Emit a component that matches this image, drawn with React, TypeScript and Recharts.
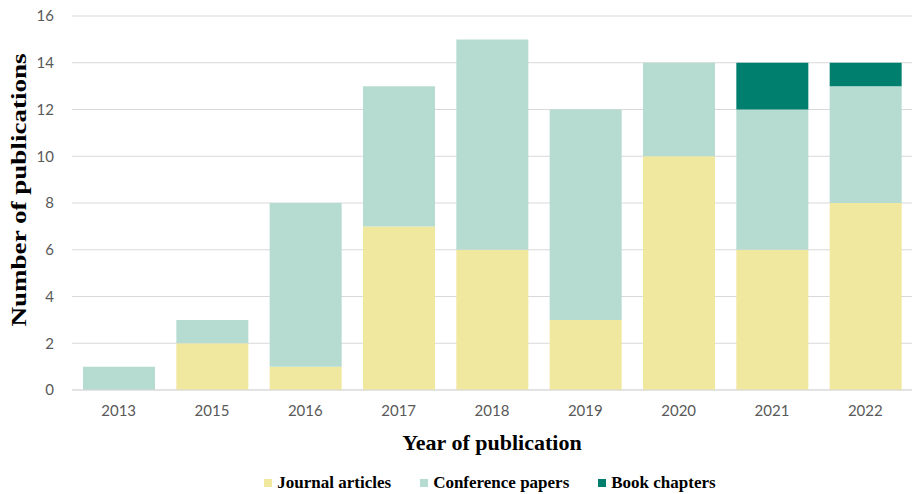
import React from 'react';
import { BarChart, Bar, XAxis, YAxis, CartesianGrid, Legend, Label } from 'recharts';

const years = ['2013', '2015', '2016', '2017', '2018', '2019', '2020', '2021', '2022'];
const journalArticles = [0, 2, 1, 7, 6, 3, 10, 6, 8];
const conferencePapers = [1, 1, 7, 6, 9, 9, 4, 6, 5];
const bookChapters = [0, 0, 0, 0, 0, 0, 0, 2, 1];
const yTicks = [0, 2, 4, 6, 8, 10, 12, 14, 16];

const series = [
  { key: 'journal', name: 'Journal articles', color: '#F0E89E' },
  { key: 'conference', name: 'Conference papers', color: '#B6DBD1' },
  { key: 'book', name: 'Book chapters', color: '#007F6F' },
];

const data = years.map((year, i) => ({
  year,
  journal: journalArticles[i],
  conference: conferencePapers[i],
  book: bookChapters[i],
}));

const serif = '"Liberation Serif", "Times New Roman", serif';

const renderLegend = () => (
  <div style={{ display: 'flex', justifyContent: 'center', gap: 29, marginTop: 9, fontFamily: serif, fontWeight: 'bold', fontSize: 17, lineHeight: '20px', color: '#000' }}>
    {series.map((s) => (
      <div key={s.key} style={{ display: 'flex', alignItems: 'center', gap: 5 }}>
        <div style={{ width: 8, height: 8, background: s.color }} />
        <span>{s.name}</span>
      </div>
    ))}
  </div>
);

// rotated axis title, stretched along its length like the original
const YLabel = () => (
  <text
    transform="translate(18, 190) rotate(-90) scale(1.23, 1)"
    textAnchor="middle"
    dominantBaseline="central"
    style={{ fontFamily: serif, fontWeight: 'bold', fontSize: 22, fill: '#000' }}
  >
    Number of publications
  </text>
);

const App: React.FC = () => {
  return (
    <div>
      <style>{'body{margin:0}'}</style>
      <BarChart
        width={912}
        height={494}
        data={data}
        margin={{ top: 16, right: 0, left: 0, bottom: 0 }}
        barSize={72}
      >
        <CartesianGrid vertical={false} stroke="#D9D9D9" />
        <XAxis
          dataKey="year"
          height={74}
          axisLine={{ stroke: '#D9D9D9' }}
          tickLine={false}
          tickSize={0}
          tickMargin={15}
          tick={{ fill: '#595959', fontSize: 15, fontFamily: 'Lato, sans-serif' }}
        >
          <Label
            value="Year of publication"
            position="insideBottom"
            offset={14}
            style={{ fontFamily: serif, fontWeight: 'bold', fontSize: 22, fill: '#000' }}
          />
        </XAxis>
        <YAxis
          width={72}
          domain={[0, 16]}
          ticks={yTicks}
          axisLine={false}
          tickLine={false}
          tickSize={0}
          tickMargin={18}
          tick={{ fill: '#595959', fontSize: 15, fontFamily: 'Lato, sans-serif' }}
        >
          <Label content={<YLabel />} />
        </YAxis>
        <Legend verticalAlign="bottom" height={30} content={renderLegend} wrapperStyle={{ left: 0, width: 980, bottom: 0 }} />
        {series.map((s) => (
          <Bar key={s.key} dataKey={s.key} name={s.name} stackId="a" fill={s.color} isAnimationActive={false} />
        ))}
      </BarChart>
    </div>
  );
};

export default App;
